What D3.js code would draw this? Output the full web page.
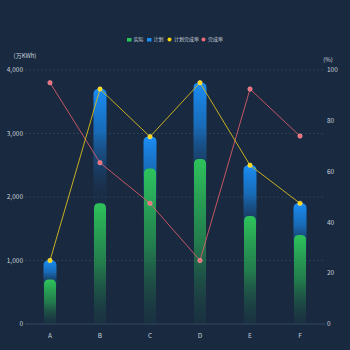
<!DOCTYPE html>
<html><head><meta charset="utf-8">
<script src="https://cdn.jsdelivr.net/npm/d3@7/dist/d3.min.js"></script>
<style>
html,body{margin:0;padding:0;background:#192a40;}
svg{display:block;font-family:"Noto Sans CJK SC","Noto Sans",sans-serif;}
</style></head>
<body><svg id="c" width="350" height="350"></svg>
<script>
const categories = ["A","B","C","D","E","F"];
const actual = [700, 1900, 2450, 2600, 1700, 1400];
const plan = [1000, 3700, 2950, 3800, 2500, 1900];
const planRate = [25, 92.5, 73.75, 95, 62.5, 47.5];
const rate = [95, 63.5, 47.5, 25, 92.5, 74];
const leftTicks = [0, 1000, 2000, 3000, 4000];
const rightTicks = [0, 20, 40, 60, 80, 100];
const legendNames = ["实际", "计划", "计划完成率", "完成率"];

const svg = d3.select("#c");
const W = 350, H = 350;
svg.append("rect").attr("width", W).attr("height", H).attr("fill", "#192a40");
const m = {l: 25, r: 25, t: 70, b: 26};
const x = d3.scaleBand().domain(categories).range([m.l, W - m.r]);
const yL = d3.scaleLinear().domain([0, 4000]).range([H - m.b, m.t]);
const yR = d3.scaleLinear().domain([0, 100]).range([H - m.b, m.t]);
const textCol = "#c9d1dc";

const defs = svg.append("defs");
const gb = defs.append("linearGradient").attr("id", "gBlue").attr("x1", 0).attr("y1", 0).attr("x2", 0).attr("y2", 1);
gb.append("stop").attr("offset", "0").attr("stop-color", "#1a8df5").attr("stop-opacity", 1);
gb.append("stop").attr("offset", "0.18").attr("stop-color", "#1872c4").attr("stop-opacity", 0.9);
gb.append("stop").attr("offset", "0.45").attr("stop-color", "#1b3c66").attr("stop-opacity", 0.15);
gb.append("stop").attr("offset", "1").attr("stop-color", "#192a40").attr("stop-opacity", 0);
const gg = defs.append("linearGradient").attr("id", "gGreen").attr("x1", 0).attr("y1", 0).attr("x2", 0).attr("y2", 1);
gg.append("stop").attr("offset", "0").attr("stop-color", "#2ec35a").attr("stop-opacity", 1);
gg.append("stop").attr("offset", "0.5").attr("stop-color", "#27a052").attr("stop-opacity", 0.7);
gg.append("stop").attr("offset", "1").attr("stop-color", "#1f4a45").attr("stop-opacity", 0.2);

// grid
svg.append("g").selectAll("line").data(leftTicks.filter(d => d > 0)).join("line")
  .attr("x1", m.l).attr("x2", W - m.r).attr("y1", d => yL(d)).attr("y2", d => yL(d))
  .attr("stroke", "#2b3e57").attr("stroke-width", 1).attr("stroke-dasharray", "2,2");
svg.append("line").attr("x1", m.l).attr("x2", W - m.r).attr("y1", yL(0)).attr("y2", yL(0))
  .attr("stroke", "#34475f").attr("stroke-width", 1);

// left axis labels
const fmt = d3.format(",");
svg.append("g").selectAll("text").data(leftTicks).join("text")
  .attr("x", m.l - 2).attr("y", d => yL(d)).attr("dy", "0.35em").attr("text-anchor", "end")
  .attr("fill", textCol).attr("font-size", 6.5).text(d => fmt(d));
svg.append("text").attr("x", 25).attr("y", 58).attr("text-anchor", "middle").attr("fill", textCol)
  .attr("font-size", 6).text("(万KWh)");
// right axis labels
svg.append("g").selectAll("text").data(rightTicks).join("text")
  .attr("x", W - m.r + 2).attr("y", d => yR(d)).attr("dy", "0.35em").attr("text-anchor", "start")
  .attr("fill", textCol).attr("font-size", 6.5).text(d => d);
svg.append("text").attr("x", 328).attr("y", 62).attr("text-anchor", "middle").attr("fill", textCol)
  .attr("font-size", 6).text("(%)");
// x labels
svg.append("g").selectAll("text").data(categories).join("text")
  .attr("x", d => x(d) + x.bandwidth() / 2).attr("y", 338).attr("text-anchor", "middle")
  .attr("fill", textCol).attr("font-size", 6.5).text(d => d);

function topRounded(cx, w, yTop, yBot, r) {
  const x0 = cx - w / 2, x1 = cx + w / 2;
  r = Math.min(r, (yBot - yTop));
  return `M${x0},${yBot}V${yTop + r}Q${x0},${yTop} ${x0 + r},${yTop}H${x1 - r}Q${x1},${yTop} ${x1},${yTop + r}V${yBot}Z`;
}
const bw = 13;
svg.append("g").selectAll("path").data(plan).join("path")
  .attr("d", (d, i) => topRounded(x(categories[i]) + x.bandwidth() / 2, bw, yL(d), yL(0), 5))
  .attr("fill", "url(#gBlue)");
svg.append("g").selectAll("path").data(actual).join("path")
  .attr("d", (d, i) => topRounded(x(categories[i]) + x.bandwidth() / 2, 12, yL(d), yL(0), 5))
  .attr("fill", "url(#gGreen)");

// lines
const cx = i => x(categories[i]) + x.bandwidth() / 2;
const line = d3.line().x((d, i) => cx(i)).y(d => yR(d));
svg.append("path").datum(rate).attr("d", line).attr("fill", "none").attr("stroke", "#d85a66").attr("stroke-width", 0.9);
svg.append("path").datum(planRate).attr("d", line).attr("fill", "none").attr("stroke", "#d9bd1e").attr("stroke-width", 0.9);
svg.append("g").selectAll("circle").data(rate).join("circle")
  .attr("cx", (d, i) => cx(i)).attr("cy", d => yR(d)).attr("r", 2.2)
  .attr("fill", "#f06b78").attr("stroke", "#f4a0a8").attr("stroke-width", 0.6);
svg.append("g").selectAll("circle").data(planRate).join("circle")
  .attr("cx", (d, i) => cx(i)).attr("cy", d => yR(d)).attr("r", 2.2)
  .attr("fill", "#ffd500").attr("stroke", "#fff08a").attr("stroke-width", 0.6);

// legend
const lg = svg.append("g").attr("font-size", 5).attr("fill", textCol);
const items = [
  {n: legendNames[0], t: "rect", c: "#2ec35a", x: 127},
  {n: legendNames[1], t: "rect", c: "#1a8df5", x: 147},
  {n: legendNames[2], t: "dot", c: "#ffd500", x: 167.5},
  {n: legendNames[3], t: "dot", c: "#f06b78", x: 201.5}
];
items.forEach(it => {
  if (it.t === "rect") {
    lg.append("rect").attr("x", it.x).attr("y", 38).attr("width", 4.5).attr("height", 3.5).attr("fill", it.c);
  } else {
    lg.append("circle").attr("cx", it.x + 2).attr("cy", 39.5).attr("r", 2).attr("fill", it.c);
  }
  lg.append("text").attr("x", it.x + 6.5).attr("y", 39.5).attr("dy", "0.35em").text(it.n);
});
</script></body></html>
